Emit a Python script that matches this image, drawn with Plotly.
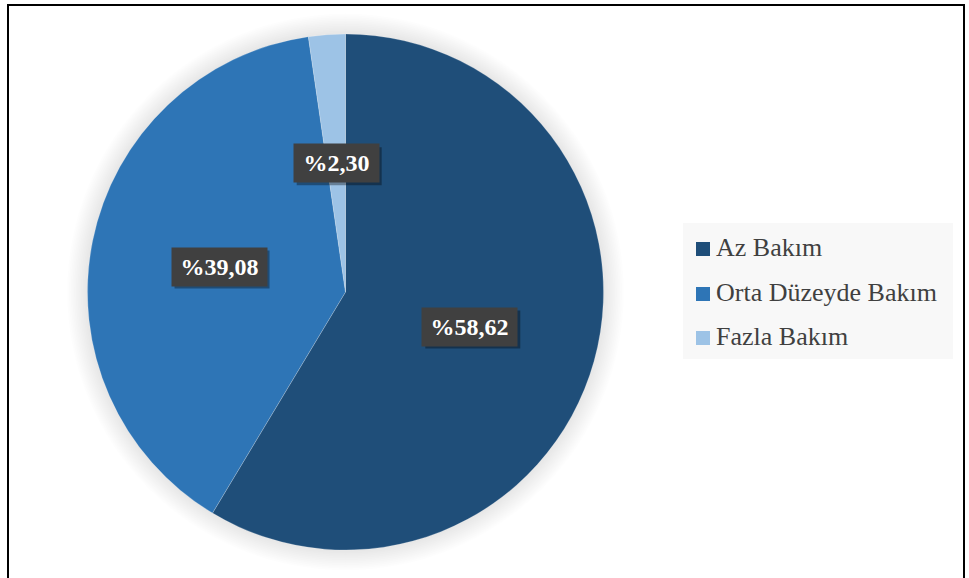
import numpy as np
import plotly.graph_objects as go

# Data
categories = ["Az Bakım", "Orta Düzeyde Bakım", "Fazla Bakım"]
values = [58.62, 39.08, 2.30]
colors = ["#1f4e79", "#2e75b6", "#9dc3e6"]

W, H = 969, 578
CX, CY, R = 345.5, 292.0, 258.0  # pie centre and radius in pixels
SERIF = "Times New Roman, Liberation Serif, DejaVu Serif, serif"


def px(x):
    return x / W


def py(y):
    return 1 - y / H


fig = go.Figure()

fig.add_trace(go.Pie(
    labels=categories,
    values=values,
    sort=False,
    direction="clockwise",
    rotation=0,
    marker=dict(colors=colors, line=dict(color="rgba(255,255,255,0.35)", width=0.6)),
    textinfo="none",
    hovertemplate="%{label}: %{value:.2f}%<extra></extra>",
    domain=dict(x=[px(CX - R), px(CX + R)], y=[py(CY + R), py(CY - R)]),
    showlegend=False,
))

shapes = []

# soft outer shadow around the pie
for k in range(1, 13):
    rr = R + 1.7 * k
    shapes.append(dict(
        type="circle", xref="paper", yref="paper", layer="below",
        x0=px(CX - rr), x1=px(CX + rr), y0=py(CY + rr), y1=py(CY - rr),
        fillcolor="rgba(0,0,0,0.009)", line=dict(width=0),
    ))

# outer frame
shapes.append(dict(
    type="rect", xref="paper", yref="paper",
    x0=px(8), x1=px(964), y0=py(600), y1=py(5),
    line=dict(color="black", width=2), fillcolor="rgba(0,0,0,0)",
))

# legend panel
shapes.append(dict(
    type="rect", xref="paper", yref="paper", layer="below",
    x0=px(683), x1=px(953), y0=py(359), y1=py(223),
    fillcolor="#f8f8f8", line=dict(width=0),
))

annotations = []

# value labels placed at half radius on each slice's mid angle
fracs = np.array(values) / np.sum(values)
starts = np.concatenate([[0], np.cumsum(fracs)[:-1]])
mids = (starts + fracs / 2) * 2 * np.pi
PAD, BOX_H = 4, 30
for v, a in zip(values, mids):
    lx = CX + 0.5 * R * np.sin(a)
    ly = CY - 0.5 * R * np.cos(a)
    label = "%" + f"{v:.2f}".replace(".", ",")
    box_w = 10 * len(label) + 27
    # drop shadow behind the label box
    hw = box_w / 2 + PAD
    hh = BOX_H / 2 + PAD
    shapes.append(dict(
        type="rect", xref="paper", yref="paper",
        x0=px(lx - hw + 3), x1=px(lx + hw + 3), y0=py(ly + hh + 3), y1=py(ly - hh + 3),
        fillcolor="rgba(0,0,0,0.35)", line=dict(width=0),
    ))
    annotations.append(dict(
        x=px(lx), y=py(ly), xref="paper", yref="paper", showarrow=False,
        text=label, width=box_w, height=BOX_H, borderpad=PAD,
        xanchor="center", yanchor="middle", bgcolor="#404040",
        font=dict(family=SERIF, size=24, color="white", weight="bold"),
    ))

# legend entries
row_y = [249, 294, 338]
for name, col, yy in zip(categories, colors, row_y):
    shapes.append(dict(
        type="rect", xref="paper", yref="paper",
        x0=px(696), x1=px(710), y0=py(yy + 7), y1=py(yy - 7),
        fillcolor=col, line=dict(width=0),
    ))
    annotations.append(dict(
        x=px(714), y=py(yy - 2), xref="paper", yref="paper", showarrow=False,
        text=name, xanchor="left", yanchor="middle",
        font=dict(family=SERIF, size=26, color="#404040"),
    ))

fig.update_layout(
    width=W, height=H,
    margin=dict(l=0, r=0, t=0, b=0),
    paper_bgcolor="white",
    plot_bgcolor="white",
    shapes=shapes,
    annotations=annotations,
)

fig.write_html("out.html")
